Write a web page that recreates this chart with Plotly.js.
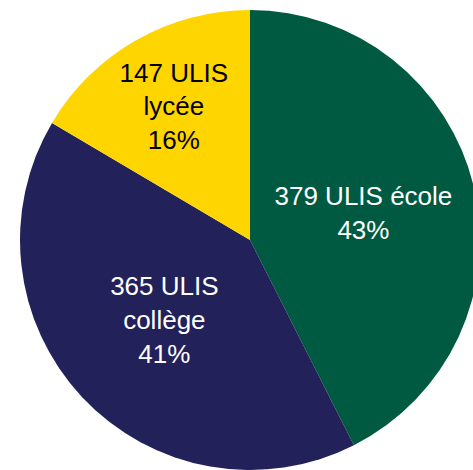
<!DOCTYPE html>
<html><head><meta charset="utf-8">
<script src="https://cdn.plot.ly/plotly-3.0.1.min.js"></script>
<style>html,body{margin:0;padding:0;overflow:hidden;background:#fff}</style>
</head><body><div id="chart"></div>
<script>
const categories = ["ULIS école", "ULIS collège", "ULIS lycée"];
const values = [379, 365, 147];
const percentLabels = ["43%", "41%", "16%"];
const labelTexts = ["379 ULIS école<br>43%", "365 ULIS<br>collège<br>41%", "147 ULIS<br>lycée<br>16%"];
const colors = ["#005A41", "#23215A", "#FFD500"];
const textColors = ["#ffffff", "#ffffff", "#000000"];

Plotly.newPlot("chart", [{
  type: "pie",
  labels: categories,
  values: values,
  text: labelTexts,
  textinfo: "text",
  texttemplate: "%{text}",
  hoverinfo: "none",
  sort: false,
  direction: "clockwise",
  rotation: 0,
  marker: {colors: colors, line: {width: 0}},
  textposition: "inside",
  insidetextorientation: "horizontal",
  insidetextfont: {family: "Liberation Sans, Arial, sans-serif", size: 26, color: textColors}
}], {
  width: 500, height: 470,
  margin: {l: 20, r: 20, t: 10, b: 0},
  showlegend: false,
  paper_bgcolor: "#ffffff"
}, {staticPlot: true});
</script></body></html>
